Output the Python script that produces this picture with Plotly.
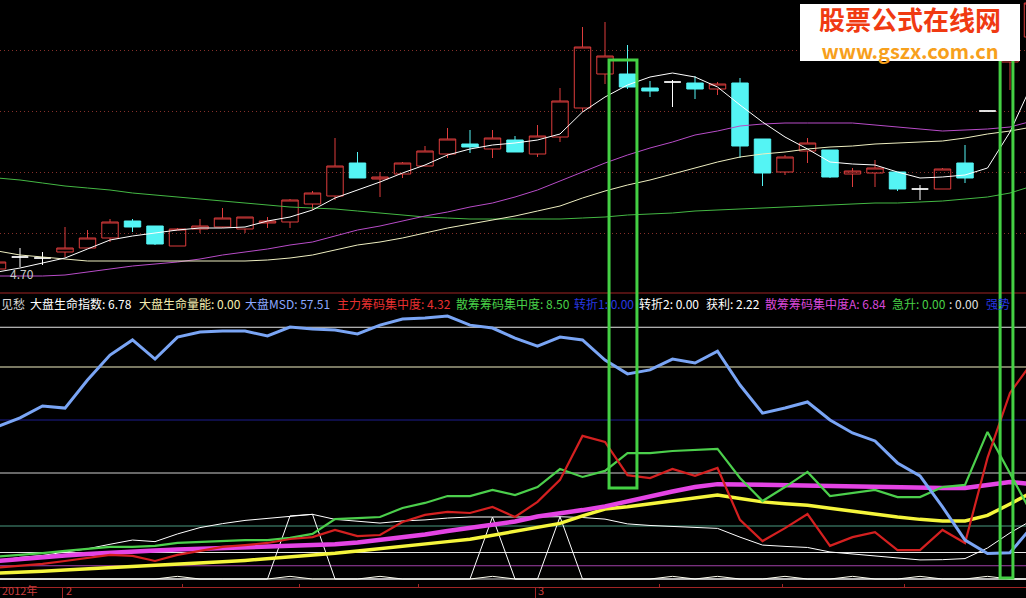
import plotly.graph_objects as go

W, H = 1026, 598

# ---------------- price panel: one entry per trading day ----------------
open_ = [4.74, 4.86, 4.85, 4.91, 4.95, 5.05, 5.22, 5.17, 4.97, 5.14, 5.16, 5.14, 5.20, 5.21, 5.39, 5.47,
         5.80, 5.64, 5.69, 5.77, 5.89, 5.99, 5.94, 6.03, 5.89, 6.06, 6.35, 6.69, 6.69, 6.55, 6.61, 6.60,
         6.54, 6.60, 6.04, 5.71, 5.92, 5.93, 5.69, 5.70, 5.71, 5.54, 5.54, 5.80, 6.32, 6.81, 7.06]
high = [4.83, 4.95, 4.91, 5.16, 5.13, 5.24, 5.24, 5.17, 5.15, 5.24, 5.35, 5.26, 5.26, 5.44, 5.52, 6.05,
        5.91, 5.71, 5.81, 5.97, 6.15, 6.13, 6.13, 6.07, 6.18, 6.55, 7.16, 7.21, 6.98, 6.62, 6.63, 6.67,
        6.61, 6.65, 6.04, 5.88, 6.05, 5.93, 5.75, 5.83, 5.71, 5.58, 5.75, 5.98, 6.32, 7.28, 7.43]
low = [4.70, 4.76, 4.78, 4.86, 4.95, 5.01, 5.11, 4.98, 4.97, 5.10, 5.15, 5.10, 5.15, 5.15, 5.33, 5.43,
       5.65, 5.46, 5.65, 5.77, 5.85, 5.90, 5.85, 5.91, 5.86, 6.01, 6.31, 6.59, 6.54, 6.46, 6.36, 6.44,
       6.48, 5.85, 5.57, 5.68, 5.80, 5.65, 5.56, 5.56, 5.52, 5.43, 5.54, 5.60, 6.32, 6.53, 7.06]
close = [4.81, 4.86, 4.85, 4.95, 5.05, 5.21, 5.16, 4.99, 5.14, 5.17, 5.25, 5.26, 5.22, 5.43, 5.50, 5.77,
         5.65, 5.66, 5.80, 5.92, 6.04, 5.96, 6.05, 5.91, 6.07, 6.42, 6.96, 6.87, 6.56, 6.52, 6.61, 6.54,
         6.59, 5.97, 5.70, 5.86, 6.00, 5.66, 5.72, 5.75, 5.54, 5.54, 5.74, 5.65, 6.32, 7.23, 7.40]

ma_short = [4.71, 4.75, 4.80, 4.85, 4.94, 5.03, 5.07, 5.10, 5.13, 5.15, 5.15, 5.16, 5.22, 5.26, 5.33, 5.45,
            5.53, 5.61, 5.70, 5.78, 5.88, 5.94, 5.98, 6.00, 6.03, 6.09, 6.31, 6.46, 6.58, 6.66, 6.70, 6.66,
            6.56, 6.38, 6.21, 6.06, 5.94, 5.81, 5.79, 5.78, 5.71, 5.65, 5.66, 5.68, 5.75, 6.11, 6.60]
ma_mid = [4.92, 4.88, 4.86, 4.84, 4.82, 4.82, 4.82, 4.82, 4.82, 4.82, 4.82, 4.82, 4.83, 4.85, 4.88, 4.93,
          4.98, 5.01, 5.05, 5.10, 5.15, 5.19, 5.23, 5.27, 5.32, 5.37, 5.45, 5.52, 5.58, 5.63, 5.69, 5.75,
          5.81, 5.86, 5.89, 5.91, 5.94, 5.96, 5.97, 5.99, 6.00, 6.01, 6.02, 6.05, 6.09, 6.12, 6.16]
ma_long = [4.67, 4.67, 4.67, 4.68, 4.71, 4.74, 4.77, 4.79, 4.81, 4.84, 4.88, 4.91, 4.94, 4.98, 5.01, 5.07,
           5.13, 5.17, 5.22, 5.27, 5.31, 5.36, 5.40, 5.46, 5.53, 5.62, 5.71, 5.80, 5.88, 5.95, 6.01, 6.08,
           6.12, 6.17, 6.19, 6.20, 6.20, 6.20, 6.20, 6.18, 6.16, 6.14, 6.12, 6.13, 6.14, 6.16, 6.22]
ma_year = [5.65, 5.63, 5.60, 5.57, 5.55, 5.53, 5.50, 5.48, 5.46, 5.44, 5.42, 5.40, 5.38, 5.36, 5.35, 5.34,
           5.32, 5.30, 5.28, 5.26, 5.25, 5.24, 5.24, 5.24, 5.24, 5.24, 5.25, 5.26, 5.28, 5.29, 5.30, 5.32,
           5.33, 5.34, 5.35, 5.36, 5.37, 5.38, 5.39, 5.40, 5.40, 5.41, 5.42, 5.44, 5.46, 5.50, 5.57]

# ---------------- indicator panel ----------------
msd = [57.51, 60.8, 65.3, 64.5, 75.1, 84.5, 90.2, 83.0, 91.3, 93.2, 93.6, 93.6, 91.7, 95.1, 94.3, 94.0,
       92.5, 95.8, 98.1, 98.5, 99.2, 95.8, 94.7, 90.9, 87.9, 91.3, 90.2, 82.6, 77.4, 78.9, 83.0, 81.5,
       86.0, 73.2, 62.6, 64.5, 66.8, 60.0, 55.1, 52.1, 43.8, 38.9, 27.2, 14.7, 9.6, 9.9, 20.0]
main_chip = [4.32, 4.9, 5.7, 6.8, 7.9, 9.1, 8.7, 6.8, 9.1, 10.6, 12.1, 12.8, 13.6, 15.1, 15.8, 18.5,
             16.2, 16.6, 21.5, 24.2, 25.3, 24.9, 27.2, 23.4, 29.1, 37.4, 54.0, 51.7, 39.2, 38.1, 41.5, 38.9,
             41.9, 22.3, 14.3, 19.2, 24.5, 12.5, 15.8, 17.7, 10.9, 10.9, 18.5, 13.6, 45.7, 70.2, 81.9]
retail_chip = [8.50, 9.1, 9.8, 10.6, 11.3, 12.1, 12.1, 12.5, 13.6, 14.0, 14.3, 14.7, 14.7, 15.5, 17.0, 22.6,
               23.0, 23.4, 26.8, 28.7, 31.3, 31.3, 33.6, 31.7, 34.7, 41.5, 38.5, 40.8, 47.5, 47.5, 48.3, 48.7,
               49.1, 38.1, 29.4, 34.7, 40.4, 31.3, 32.5, 33.6, 30.9, 30.9, 34.7, 35.5, 55.5, 40.0, 24.2]
retail_chip_a = [6.84, 7.6, 8.3, 8.9, 9.4, 10.0, 10.4, 10.8, 11.1, 11.4, 11.7, 11.9, 12.2, 12.4, 12.7, 13.1,
                 13.8, 14.7, 15.7, 16.8, 18.1, 19.2, 20.6, 21.7, 23.6, 24.7, 26.0, 27.4, 29.4, 31.3, 33.0, 34.7,
                 35.8, 35.7, 35.5, 35.5, 35.3, 35.1, 34.9, 34.7, 34.5, 34.3, 34.3, 34.3, 35.5, 36.6, 35.8]
profit = [2.22, 2.5, 2.9, 3.4, 3.8, 4.2, 4.6, 5.1, 5.5, 5.9, 6.5, 7.0, 7.6, 8.2, 8.9, 9.7,
          10.6, 11.4, 12.3, 13.2, 14.1, 15.0, 16.5, 18.0, 19.6, 21.0, 23.8, 26.4, 27.3, 28.4, 29.4, 30.6,
          31.7, 30.4, 29.1, 28.4, 27.8, 26.7, 25.5, 24.4, 23.4, 22.5, 21.9, 21.9, 24.0, 28.3, 32.8]
life_index = [6.78, 8.2, 8.9, 10.2, 11.4, 13.1, 14.7, 14.1, 17.0, 19.4, 20.9, 22.1, 22.9, 23.8, 24.4, 22.5,
              21.9, 21.1, 21.9, 22.3, 23.0, 23.4, 23.4, 23.3, 23.4, 23.5, 23.2, 22.6, 20.8, 20.2, 19.8, 19.4,
              19.1, 15.8, 12.8, 12.3, 11.9, 10.2, 9.4, 8.7, 7.9, 7.2, 7.3, 7.7, 11.7, 17.4, 22.3]
life_volume = [0, 0, 0, 0, 0, 0, 0, 0, 1.0, 0, 0, 0, 0, 1.0, 0, 0,
               0, 1.0, 0, 0, 0, 0, 1.0, 0, 0, 0, 0, 0, 0, 0, 1.0, 0,
               1.0, 0, 0, 1.0, 0, 0, 1.0, 0, 0, 1.0, 0, 0, 1.0, 0, 0]
turn2 = [0, 0, 0, 0, 0, 0, 0, 0, 0, 0, 0, 0, 0, 23.8, 24.4, 0,
         0, 0, 0, 0, 0, 0, 23.4, 0, 0, 23.5, 0, 0, 0, 0, 0, 0,
         0, 0, 0, 0, 0, 0, 0, 0, 0, 0, 0, 0, 0, 0, 0]

price_grid = [6.93, 6.32, 5.71, 5.10]
ref_levels = [95, 80, 60, 40, 20, 10, 5, 0]
ref_colors = ["#e6e6e6", "#f2f0c4", "#1c1c8e", "#cfcfcf", "#4a9a80", "#e6e6e6", "#a040a8", "#d8d8d8"]
month_ticks = [2.9, 23.9]
month_labels = ["2", "3"]
week_ticks = [8.2, 13.44, 18.69, 29.44, 34.91, 40.33]
cursor_spans = [(27.18, 28.42), (44.56, 45.13)]

bars = list(range(len(close)))
x_range = [0.111, 45.711]

RED = "#dd3c3c"
CYAN = "#54f4f4"
AXIS_RED = "#a02424"
FONT = "Noto Sans CJK SC"


def pyp(px):
    """pixel row -> paper y"""
    return 1 - px / H


def pxp(px):
    """pixel column -> paper x"""
    return px / W


fig = go.Figure()

# moving averages
for ys, col in [(ma_year, "#44b844"), (ma_long, "#b84cc8"), (ma_mid, "#eeeec0"), (ma_short, "#ffffff")]:
    fig.add_trace(go.Scatter(x=bars, y=ys, mode="lines", line=dict(color=col, width=1),
                             xaxis="x", yaxis="y", hoverinfo="skip"))

# candles: rising (hollow red), falling (solid cyan), flat (white cross)
groups = [
    ([i for i in bars if close[i] > open_[i]], RED, "rgba(0,0,0,0)"),
    ([i for i in bars if close[i] < open_[i]], CYAN, CYAN),
    ([i for i in bars if close[i] == open_[i]], "#ffffff", "#ffffff"),
]
for idx, col, fill in groups:
    style = dict(line=dict(color=col, width=1), fillcolor=fill)
    fig.add_trace(go.Candlestick(
        x=idx, open=[open_[i] for i in idx], high=[high[i] for i in idx],
        low=[low[i] for i in idx], close=[close[i] for i in idx],
        increasing=style, decreasing=style, whiskerwidth=0,
        xaxis="x", yaxis="y", hoverinfo="skip"))

# indicator lines
for ys, col, w in [
    (life_volume, "#fffff0", 1),
    (turn2, "#ffffff", 1),
    (life_index, "#ffffff", 1),
    (profit, "#f5f53c", 3.5),
    (retail_chip_a, "#e444e4", 4.5),
    (retail_chip, "#4ccf4c", 2.2),
    (main_chip, "#d42020", 2.2),
    (msd, "#7aa5f5", 3),
]:
    fig.add_trace(go.Scatter(x=bars, y=ys, mode="lines", line=dict(color=col, width=w),
                             xaxis="x2", yaxis="y2", hoverinfo="skip"))

shapes = []
for lvl, col in zip(ref_levels, ref_colors):
    shapes.append(dict(type="line", xref="paper", x0=0, x1=1, yref="y2", y0=lvl, y1=lvl,
                       line=dict(color=col, width=1), layer="below"))
# panel separator
shapes.append(dict(type="line", xref="paper", x0=0, x1=1, yref="paper", y0=pyp(293), y1=pyp(293),
                   line=dict(color=AXIS_RED, width=1)))
# cursor boxes
for (a, b), (top, bot) in zip(cursor_spans, [(60, 488), (50, 578)]):
    shapes.append(dict(type="rect", xref="x", x0=a, x1=b, yref="paper", y0=pyp(bot), y1=pyp(top),
                       line=dict(color="#44d044", width=3), fillcolor="rgba(0,0,0,0)", layer="above"))
# site badge
shapes.append(dict(type="rect", xref="paper", x0=pxp(800), x1=pxp(1020), yref="paper",
                   y0=pyp(61), y1=pyp(4), line=dict(width=0), fillcolor="#ffffff", layer="above"))

annotations = []
row_y = pyp(303)
legend_items = [
    (-1, "见愁", "#d8d8d8"),
    (28, f"大盘生命指数: {life_index[0]:.2f}", "#ffffff"),
    (137, f"大盘生命量能: {life_volume[0]:.2f}", "#f6eeb0"),
    (243, f"大盘MSD: {msd[0]:.2f}", "#8ca8ff"),
    (335, f"主力筹码集中度: {main_chip[0]:.2f}", "#e83030"),
    (454, f"散筹筹码集中度: {retail_chip[0]:.2f}", "#48d048"),
    (572, "转折1: 0.00", "#2838e0"),
    (637, f"转折2: {turn2[0]:.2f}", "#ffffff"),
    (704, f"获利: {profit[0]:.2f}", "#ffffff"),
    (763, f"散筹筹码集中度A: {retail_chip_a[0]:.2f}", "#d848d8"),
    (890, "急升: 0.00", "#48d048"),
    (947, ": 0.00", "#e0e0e0"),
    (984, "强势", "#2838e0"),
]
for x, txt, col in legend_items:
    annotations.append(dict(xref="paper", yref="paper", x=pxp(x), y=row_y, text=txt, showarrow=False,
                            xanchor="left", yanchor="middle",
                            font=dict(family=FONT, size=12, color=col)))

# lowest price tag
low_min = min(low)
annotations.append(dict(xref="paper", yref="y", x=pxp(8), y=low_min, text=f"{low_min:.2f}",
                        showarrow=False, xanchor="left", yanchor="middle",
                        font=dict(family=FONT, size=12, color="#c8c8c8")))

# date axis labels
label_y = pyp(590)
annotations.append(dict(xref="paper", yref="paper", x=0, y=label_y, text="2012年", showarrow=False,
                        xanchor="left", yanchor="middle", font=dict(family=FONT, size=11, color="#c83c3c")))
for t, lab in zip(month_ticks, month_labels):
    annotations.append(dict(xref="x2", yref="paper", x=t, y=label_y, text=lab, showarrow=False,
                            xanchor="left", yanchor="middle", xshift=1,
                            font=dict(family=FONT, size=11, color="#c83c3c")))

# site badge text (two lines in one block)
badge = ('<b><span style="color:#f03a12;font-size:26px">股票公式在线网</span></b><br>'
         '<b><span style="color:#f7a01c;font-size:20px">www.gszx.com.cn</span></b>')
annotations.append(dict(xref="paper", yref="paper", x=pxp(910), y=pyp(33), text=badge,
                        showarrow=False, xanchor="center", yanchor="middle", align="center",
                        font=dict(family=FONT, size=22, color="#f03a12")))

fig.update_layout(
    width=W, height=H, margin=dict(l=0, r=0, t=0, b=0),
    paper_bgcolor="#000000", plot_bgcolor="#000000",
    showlegend=False, font=dict(family=FONT, color="#ffffff"),
    boxgap=0.27, boxgroupgap=0,
    xaxis=dict(domain=[0, 1], range=x_range, anchor="y", visible=False,
               rangeslider=dict(visible=False), type="linear"),
    yaxis=dict(domain=[pyp(293), 1], range=[4.50, 7.43], anchor="x",
               tickmode="array", tickvals=price_grid, showticklabels=False, ticks="",
               showgrid=True, gridcolor="#86302a", griddash="1px,3px", gridwidth=1,
               zeroline=False, showline=False),
    xaxis2=dict(domain=[0, 1], range=x_range, anchor="y2", matches="x", type="linear",
                showgrid=False, zeroline=False, showline=True, linecolor=AXIS_RED, linewidth=1,
                tickmode="array", tickvals=month_ticks, ticks="outside", ticklen=11,
                tickcolor=AXIS_RED, tickwidth=1, showticklabels=False,
                minor=dict(tickmode="array", tickvals=week_ticks, ticks="inside", ticklen=3,
                           tickcolor=AXIS_RED, showgrid=False),
                rangeslider=dict(visible=False)),
    yaxis2=dict(domain=[pyp(587), pyp(310)], range=[-3.02, 101.51], anchor="x2",
                showgrid=False, zeroline=False, showticklabels=False, ticks="", showline=False),
    shapes=shapes, annotations=annotations,
)

fig.write_html("out.html", config={"displayModeBar": False})
